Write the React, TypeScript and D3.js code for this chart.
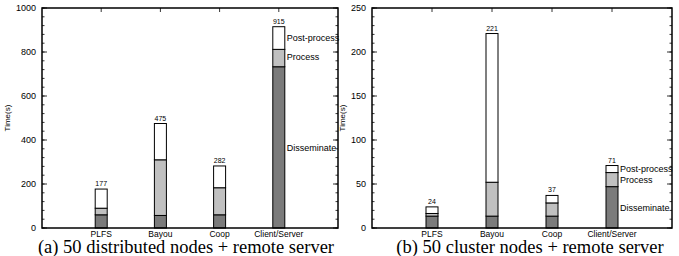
import * as d3 from "d3";

const categories = ["PLFS", "Bayou", "Coop", "Client/Server"];
const segments = ["Disseminate", "Process", "Post-process"];

// panel (a): 50 distributed nodes + remote server
const aDisseminate = [60, 57, 60, 733];
const aProcess = [30, 253, 123, 79];
const aTotals = [177, 475, 282, 915];

// panel (b): 50 cluster nodes + remote server
const bDisseminate = [13.5, 13.5, 13.5, 47];
const bProcess = [3, 38.5, 15, 16];
const bTotals = [24, 221, 37, 71];

const aTicks = [0, 200, 400, 600, 800, 1000];
const bTicks = [0, 50, 100, 150, 200, 250];

const fills = ["#7b7b7b", "#c0c0c0", "#ffffff"];
const sans = "'Liberation Sans', Arial, sans-serif";

type PanelProps = {
  left: number;
  right: number;
  top: number;
  bottom: number;
  dissem: number[];
  proc: number[];
  totals: number[];
  ticks: number[];
  minorStep: number;
  caption: string;
  captionX: number;
  titleX: number;
  labelYs: number[]; // disseminate, process, post-process
};

function Panel(p: PanelProps) {
  const x = d3.scaleLinear().domain([0, 5]).range([p.left, p.right]);
  const y = d3
    .scaleLinear()
    .domain([0, p.ticks[p.ticks.length - 1]])
    .range([p.bottom, p.top]);
  const minor = d3.range(0, p.ticks[p.ticks.length - 1] + 0.001, p.minorStep);
  const bw = 12;
  const stacks = categories.map((c, i) => {
    const v = [p.dissem[i], p.proc[i], p.totals[i] - p.dissem[i] - p.proc[i]];
    let acc = 0;
    return v.map((val, k) => {
      const y0 = acc;
      acc += val;
      return { k, y0, y1: acc };
    });
  });
  const last = categories.length - 1;
  return (
    <g>
      {/* minor ticks */}
      {minor.map((t) => (
        <g key={"m" + t}>
          <line x1={p.left} x2={p.left + 2.5} y1={y(t)} y2={y(t)} stroke="#000" strokeWidth={0.8} />
          <line x1={p.right} x2={p.right - 2.5} y1={y(t)} y2={y(t)} stroke="#000" strokeWidth={0.8} />
        </g>
      ))}
      {p.ticks.map((t) => (
        <g key={"t" + t}>
          <line x1={p.left} x2={p.left + 5} y1={y(t)} y2={y(t)} stroke="#000" strokeWidth={0.8} />
          <line x1={p.right} x2={p.right - 5} y1={y(t)} y2={y(t)} stroke="#000" strokeWidth={0.8} />
          <text x={p.left - 6} y={y(t) + 3} textAnchor="end" fontSize={9} fontFamily={sans}>
            {t}
          </text>
        </g>
      ))}
      {categories.map((c, i) => (
        <g key={"c" + c}>
          <line x1={x(i + 1)} x2={x(i + 1)} y1={p.top} y2={p.top + 4} stroke="#000" strokeWidth={0.8} />
          <line x1={x(i + 1)} x2={x(i + 1)} y1={p.bottom} y2={p.bottom - 4} stroke="#000" strokeWidth={0.8} />
          <text x={x(i + 1)} y={p.bottom + 9} textAnchor="middle" fontSize={8.5} fontFamily={sans}>
            {c}
          </text>
        </g>
      ))}
      {stacks.map((s, i) => (
        <g key={"b" + i}>
          {s.map((seg) => (
            <rect
              key={seg.k}
              x={x(i + 1) - bw / 2}
              y={y(seg.y1)}
              width={bw}
              height={y(seg.y0) - y(seg.y1)}
              fill={fills[seg.k]}
              stroke="#000"
              strokeWidth={1}
            />
          ))}
          <text x={x(i + 1)} y={y(p.totals[i]) - 3} textAnchor="middle" fontSize={7} fontFamily={sans}>
            {p.totals[i]}
          </text>
        </g>
      ))}
      {segments.map((s, k) => (
        <text
          key={s}
          x={x(last + 1) + bw / 2 + 2}
          y={p.labelYs[k]}
          fontSize={9}
          fontFamily={sans}
          fill="#000"
        >
          {s}
        </text>
      ))}
      <rect
        x={p.left}
        y={p.top}
        width={p.right - p.left}
        height={p.bottom - p.top}
        fill="none"
        stroke="#000"
        strokeWidth={1.5}
      />
      <text
        transform={`translate(${p.titleX},${(p.top + p.bottom) / 2}) rotate(-90)`}
        textAnchor="middle"
        fontSize={8}
        fontFamily={sans}
      >
        Time(s)
      </text>
      <text
        x={p.captionX}
        y={253}
        textAnchor="middle"
        fontSize={18.5}
        fontFamily="'Liberation Serif', 'Times New Roman', serif"
      >
        {p.caption}
      </text>
    </g>
  );
}

export default function App() {
  return (
    <svg
      width={679}
      height={256}
      style={{ position: "absolute", left: 0, top: 0, background: "#fff" }}
    >
      <Panel
        left={42}
        right={338}
        top={8}
        bottom={228}
        dissem={aDisseminate}
        proc={aProcess}
        totals={aTotals}
        ticks={aTicks}
        minorStep={40}
        caption="(a) 50 distributed nodes + remote server"
        captionX={186}
        titleX={10}
        labelYs={[151, 60, 41]}
      />
      <Panel
        left={372}
        right={672}
        top={8}
        bottom={228}
        dissem={bDisseminate}
        proc={bProcess}
        totals={bTotals}
        ticks={bTicks}
        minorStep={10}
        caption="(b) 50 cluster nodes + remote server"
        captionX={530}
        titleX={345}
        labelYs={[211, 183, 172]}
      />
    </svg>
  );
}
